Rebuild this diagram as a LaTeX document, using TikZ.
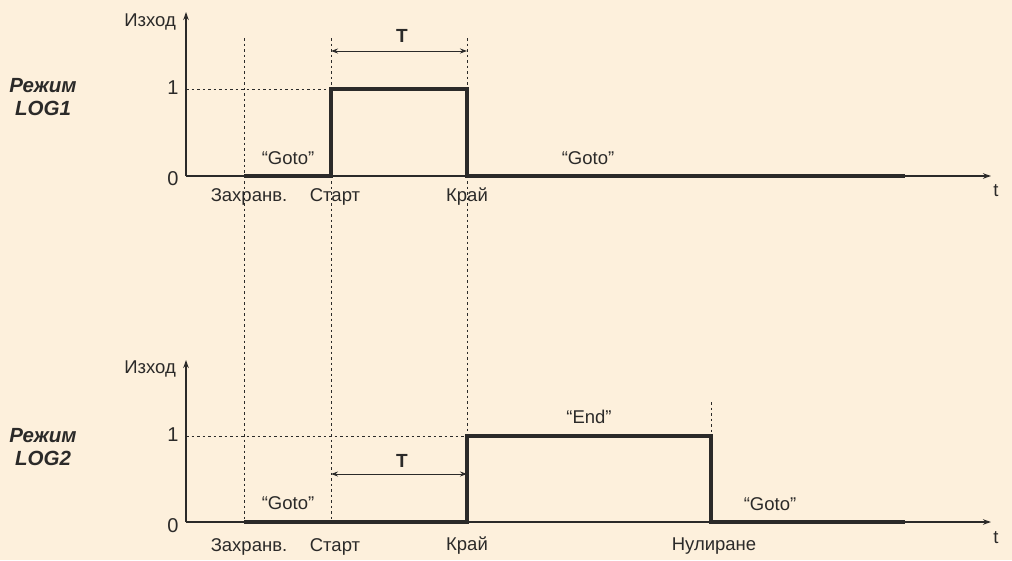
\documentclass[tikz,border=0pt]{standalone}
\usepackage{fontspec}
\setmainfont{Liberation Sans}
\usetikzlibrary{arrows.meta}
\definecolor{bg}{HTML}{FDF0DC}
\definecolor{ink}{HTML}{2B2A29}
\begin{document}
\begin{tikzpicture}[x=1pt,y=-1pt,
  axisline/.style={draw=ink, line width=1.3pt, -{Stealth[length=8pt,width=5.5pt]}},
  sig/.style={draw=ink, line width=4.6pt, line join=miter, line cap=butt},
  guide/.style={draw=ink, line width=0.9pt, dash pattern=on 2.5pt off 3pt},
  dimline/.style={draw=ink, line width=1pt, {Stealth[length=7pt,width=5pt]}-{Stealth[length=7pt,width=5pt]}},
  lbl/.style={font=\fontsize{18.5}{21}\selectfont, text=ink, inner sep=0pt},
  num/.style={font=\fontsize{20}{23}\selectfont, text=ink, inner sep=0pt},
  tlbl/.style={font=\fontsize{19}{22}\selectfont\bfseries, text=ink, inner sep=0pt},
  mode/.style={font=\fontsize{20.5}{23}\selectfont\bfseries\itshape, text=ink, align=center, inner sep=0pt}
]
\fill[bg] (0,0) rectangle (1012,560);
\useasboundingbox (0,0) rectangle (1012,560);

% ---------- coordinates: top chart ----------
\coordinate (o1) at (186,176);
\coordinate (y1) at (186,12);
\coordinate (x1) at (991,176);
\coordinate (one1) at (186,89);
\coordinate (a1) at (244,176);
\coordinate (sb1) at (331,176);
\coordinate (st1) at (331,89);
\coordinate (kt1) at (467,89);
\coordinate (kb1) at (467,176);
\coordinate (e1) at (905,176);
\coordinate (ta1) at (331,51);
\coordinate (tb1) at (467,51);
% ---------- coordinates: bottom chart ----------
\coordinate (o2) at (186,522);
\coordinate (y2) at (186,360);
\coordinate (x2) at (991,522);
\coordinate (one2) at (186,436);
\coordinate (a2) at (244,522);
\coordinate (sb2) at (331,522);
\coordinate (kb2) at (467,522);
\coordinate (kt2) at (467,436);
\coordinate (nt2) at (711,436);
\coordinate (nb2) at (711,522);
\coordinate (nd2) at (711,402);
\coordinate (e2) at (905,522);
\coordinate (ta2) at (331,474);
\coordinate (tb2) at (467,474);
% ---------- tops of long guide lines ----------
\coordinate (ga) at (244,38);
\coordinate (gs) at (331,38);
\coordinate (gk) at (467,38);

% guides
\draw[guide] (ga) -- (a2);
\draw[guide] (gs) -- (sb2);
\draw[guide] (gk) -- (kt2);
\draw[guide] (one1) -- (st1);
\draw[guide] (one2) -- (kt2);
\draw[guide] (nd2) -- (nt2);

% axes
\draw[axisline] (o1) -- (y1);
\draw[axisline] (o1) -- (x1);
\draw[axisline] (o2) -- (y2);
\draw[axisline] (o2) -- (x2);

% signals
\draw[sig] (a1) -- (sb1) -- (st1) -- (kt1) -- (kb1) -- (e1);
\draw[sig] (a2) -- (kb2) -- (kt2) -- (nt2) -- (nb2) -- (e2);

% T dimensions
\draw[dimline] (ta1) -- (tb1);
\draw[dimline] (ta2) -- (tb2);
\node[tlbl] (T1) at (402,36) {T};
\node[tlbl] (T2) at (402,461) {T};

% top chart labels
\node[lbl, anchor=east] (iz1) at (176,22) {Изход};
\node[num] (n11) at (173,88) {1};
\node[num] (n01) at (173,179) {0};
\node[lbl] (t1) at (996,191) {t};
\node[lbl] (za1) at (249,197) {Захранв.};
\node[lbl] (st1l) at (335,197) {Старт};
\node[lbl] (kr1) at (467,197) {Край};
\node[lbl] (g11) at (288,158) {“Goto”};
\node[lbl] (g12) at (588,158) {“Goto”};
\node[mode] (m1) at (43,97) {Режим\\LOG1};

% bottom chart labels
\node[lbl, anchor=east] (iz2) at (176,369) {Изход};
\node[num] (n12) at (173,435) {1};
\node[num] (n02) at (173,526) {0};
\node[lbl] (t2) at (996,538) {t};
\node[lbl] (za2) at (249,547) {Захранв.};
\node[lbl] (st2l) at (335,547) {Старт};
\node[lbl] (kr2) at (467,546) {Край};
\node[lbl] (nu2) at (714,546) {Нулиране};
\node[lbl] (en2) at (589,417) {“End”};
\node[lbl] (g21) at (288,503) {“Goto”};
\node[lbl] (g22) at (770,504) {“Goto”};
\node[mode] (m2) at (43,447) {Режим\\LOG2};
\end{tikzpicture}
\end{document}
